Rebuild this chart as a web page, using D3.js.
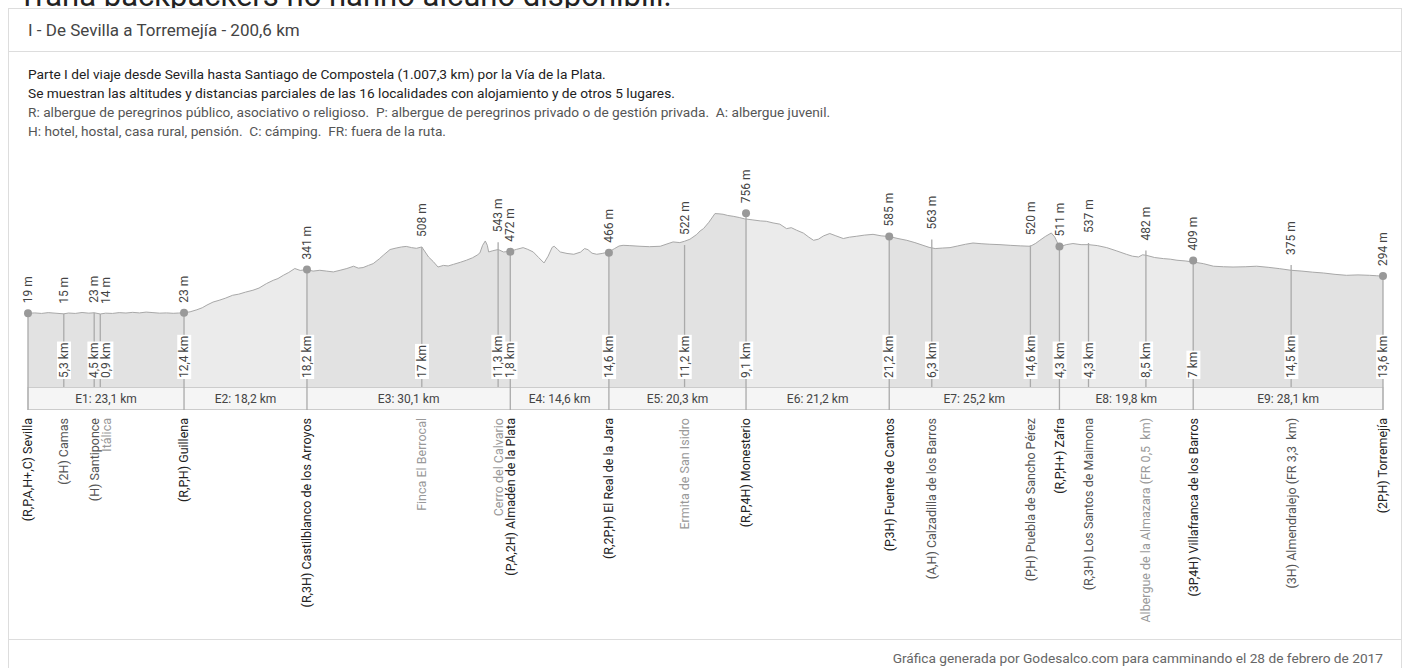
<!DOCTYPE html>
<html>
<head>
<meta charset="utf-8">
<script src="https://cdn.jsdelivr.net/npm/d3@7"></script>
<style>
  body { margin: 0; background: #fff; font-family: Roboto, "Noto Sans", sans-serif; }
  svg { display: block; }
</style>
</head>
<body>
<div id="vis"></div>
<script>
// places along the route (in order)
var placeNames = ["(R,P,A,H+,C) Sevilla", "(2H) Camas", "(H) Santiponce", "Itálica", "(R,P,H) Guillena",
  "(R,3H) Castilblanco de los Arroyos", "Finca El Berrocal", "Cerro del Calvario", "(P,A,2H) Almadén de la Plata",
  "(R,2P,H) El Real de la Jara", "Ermita de San Isidro", "(R,P,4H) Monesterio", "(P,3H) Fuente de Cantos",
  "(A,H) Calzadilla de los Barros", "(P,H) Puebla de Sancho Pérez", "(R,P,H+) Zafra", "(R,3H) Los Santos de Maimona",
  "Albergue de la Almazara (FR 0,5  km)", "(3P,4H) Villafranca de los Barros", "(3H) Almendralejo (FR 3,3  km)",
  "(2P,H) Torremejía"];
// 0 = end of stage, 1 = town with lodging, 2 = other place
var placeKind = [0, 1, 1, 2, 0, 0, 2, 2, 0, 0, 2, 0, 0, 1, 1, 0, 1, 2, 0, 1, 0];
// partial distances from the previous place (km)
var placeDist = [0, 5.3, 4.5, 0.9, 12.4, 18.2, 17, 11.3, 1.8, 14.6, 11.2, 9.1, 21.2, 6.3, 14.6, 4.3, 4.3, 8.5, 7, 14.5, 13.6];
var placeAlt = [19, 15, 23, 14, 23, 341, 508, 543, 472, 466, 522, 756, 585, 563, 520, 511, 537, 482, 409, 375, 294];

var stageNames = ["E1", "E2", "E3", "E4", "E5", "E6", "E7", "E8", "E9"];
var stageKm = [23.1, 18.2, 30.1, 14.6, 20.3, 21.2, 25.2, 19.8, 28.1];

// elevation profile
var profileKm = [0, 1, 2, 3, 4, 5.3, 6, 7, 8, 9, 9.8, 10.7, 11.5, 12.5, 13.5, 14.5, 15.5, 16.5, 17.5, 18.5,
  19.5, 20.5, 21.5, 22.3, 23.1, 24, 25, 25.8, 26.5, 27.4, 28.3, 29.2, 30.3, 31.2, 32.2, 33.3, 34.2, 35.3,
  36.3, 37, 37.8, 38.6, 39.5, 40.3, 41.3, 42.2, 43.2, 44.2, 45.2, 46.2, 47.2, 48.2, 48.9, 49.6, 50.4, 51.1,
  52, 52.6, 53.6, 54.5, 55.3, 56, 56.8, 57.5, 58.3, 59.3, 60, 60.7, 61.5, 62.2, 63, 64, 64.9, 65.8, 66.5,
  66.9, 67.3, 67.7, 68, 68.2, 68.8, 69.6, 70.4, 71.4, 72.3, 73.3, 74, 74.8, 75.6, 76.4, 77, 77.6, 77.9,
  78.4, 78.8, 79.8, 80.8, 81.8, 82.4, 82.9, 83.5, 84.2, 85, 86, 86.8, 87.5, 88.1, 89, 90.6, 92, 93.6, 94.6,
  95.5, 96.5, 97.2, 98, 99, 99.5, 100, 100.8, 101.7, 102.3, 102.9, 103.6, 104.4, 105.3, 106.1, 107.2, 108.4,
  109.3, 110.3, 111.3, 112.3, 113, 113.8, 114.8, 115.6, 116.3, 117, 117.8, 118.7, 119.6, 120.7, 121.6, 122.7,
  123.8, 125.1, 126.3, 127.5, 128.8, 130.1, 131.3, 132.5, 133.4, 134.3, 135.4, 136.5, 137.6, 138.8, 139.9,
  141.1, 142.4, 143.9, 145.4, 146.9, 148.4, 149.2, 149.8, 150.6, 151.5, 152, 152.7, 153.7, 154.7, 155.9,
  157, 158.3, 159.7, 161.1, 162.6, 163.5, 164.4, 165, 165.5, 166.8, 168.1, 169.1, 170.1, 171.3, 172.5, 174,
  175.5, 177, 178.4, 180.2, 181.9, 183.6, 185.3, 187, 188.6, 190.2, 191.8, 193.5, 195.2, 196.9, 198.6,
  199.6, 200.6];
var profileAlt = [19, 22, 18, 24, 20, 15, 21, 18, 25, 20, 23, 14, 20, 18, 24, 21, 26, 22, 28, 24,
  20, 22, 19, 21, 23, 30, 45, 60, 80, 102, 115, 130, 152, 160, 175, 189, 205, 238,
  262, 275, 299, 320, 349, 335, 341, 330, 336, 330, 324, 336, 349, 366, 352, 356, 372, 385,
  420, 447, 489, 500, 508, 512, 503, 498, 508, 434, 400, 360, 372, 368, 380, 395, 410, 428, 448,
  464, 520, 552, 520, 471, 480, 489, 471, 476, 490, 503, 490, 471, 430, 390, 440, 505, 513,
  490, 471, 460, 454, 470, 496, 488, 462, 454, 460, 471, 495, 515, 520, 518, 513, 510, 513, 530,
  545, 540, 550, 565, 600, 626, 643, 690, 754, 752, 749, 740, 734, 725, 715, 708, 700,
  697, 685, 676, 643, 650, 631, 610, 580, 557, 565, 590, 607, 590, 570, 580, 587,
  595, 601, 590, 585, 570, 557, 540, 520, 505, 496, 500, 503, 515, 528, 537,
  532, 528, 525, 520, 516, 513, 535, 557, 585, 611, 581, 508, 525, 533, 525,
  525, 518, 503, 480, 454, 440, 434, 450, 447, 430, 422, 418, 410, 405, 397, 385,
  366, 362, 360, 362, 366, 358, 348, 336, 330, 322, 316, 306, 299, 302, 299,
  296, 292];

var svgWidth = 1406, svgHeight = 668;
var base = 387, bandH = 22;

window.addEventListener('load', function () {
  var svg = d3.select("#vis").append("svg")
    .attr("width", svgWidth)
    .attr("height", svgHeight);

  // cut-off text from the page above
  svg.append("text")
    .attr("x", 18).attr("y", 6)
    .style("font-size", "31px").style("fill", "#222")
    .text("Trana backpackers no hanno alcuno disponibili.");

  // card frame
  svg.append("rect")
    .attr("x", 8.5).attr("y", 8.5)
    .attr("width", 1393).attr("height", 700)
    .attr("fill", "#fff").attr("stroke", "#ddd");
  svg.append("line").attr("x1", 9).attr("x2", 1401).attr("y1", 51.5).attr("y2", 51.5).attr("stroke", "#ddd");
  svg.append("line").attr("x1", 9).attr("x2", 1401).attr("y1", 639.5).attr("y2", 639.5).attr("stroke", "#ddd");

  svg.append("text")
    .attr("x", 28).attr("y", 36)
    .style("font-size", "17px").style("fill", "#444")
    .text("I - De Sevilla a Torremejía - 200,6 km");

  var desc = [
    ["Parte I del viaje desde Sevilla hasta Santiago de Compostela (1.007,3 km) por la Vía de la Plata.", "#222"],
    ["Se muestran las altitudes y distancias parciales de las 16 localidades con alojamiento y de otros 5 lugares.", "#222"],
    ["R: albergue de peregrinos público, asociativo o religioso.  P: albergue de peregrinos privado o de gestión privada.  A: albergue juvenil.", "#555"],
    ["H: hotel, hostal, casa rural, pensión.  C: cámping.  FR: fuera de la ruta.", "#555"]
  ];
  svg.selectAll(".desc").data(desc).enter().append("text")
    .attr("class", "desc")
    .attr("x", 28)
    .attr("y", function (d, i) { return 79 + i * 19; })
    .style("font-size", "13.7px")
    .style("fill", function (d) { return d[1]; })
    .style("white-space", "pre")
    .text(function (d) { return d[0]; });

  svg.append("text")
    .attr("x", 1383).attr("y", 663)
    .attr("text-anchor", "end")
    .style("font-size", "13.7px").style("fill", "#666")
    .text("Gráfica generada por Godesalco.com para camminando el 28 de febrero de 2017");

  // scales
  var total = d3.sum(placeDist);
  var x = d3.scaleLinear().domain([0, total]).range([28, 1383]);
  var y = d3.scaleLinear().domain([19, 756]).range([313.3, 213.3]);

  var cum = [];
  var run = 0;
  placeDist.forEach(function (d) { run += d; cum.push(run); });

  var stageStart = [0];
  stageKm.forEach(function (d, i) { stageStart.push(stageStart[i] + d); });

  var profile = profileKm.map(function (k, i) { return [k, profileAlt[i]]; });

  // stage areas, alternating shades
  var area = d3.area()
    .x(function (d) { return x(d[0]); })
    .y0(base)
    .y1(function (d) { return y(d[1]); });

  var defs = svg.append("defs");
  stageKm.forEach(function (d, i) {
    defs.append("clipPath").attr("id", "clip" + i)
      .append("rect")
      .attr("x", x(stageStart[i])).attr("y", 0)
      .attr("width", x(stageStart[i + 1]) - x(stageStart[i])).attr("height", svgHeight);
    svg.append("path")
      .datum(profile)
      .attr("d", area)
      .attr("clip-path", "url(#clip" + i + ")")
      .attr("fill", i % 2 == 0 ? "#e2e2e2" : "#ebebeb");
  });

  svg.append("path")
    .datum(profile)
    .attr("d", d3.line().x(function (d) { return x(d[0]); }).y(function (d) { return y(d[1]); }))
    .attr("fill", "none")
    .attr("stroke", "#a8a8a8")
    .attr("stroke-width", 1);

  // stage band
  var band = svg.append("g");
  band.append("rect")
    .attr("x", x(0)).attr("y", base + 0.5)
    .attr("width", x(total) - x(0)).attr("height", bandH)
    .attr("fill", "#f5f5f5").attr("stroke", "#ccc");
  band.selectAll("text").data(stageNames).enter().append("text")
    .attr("x", function (d, i) { return (x(stageStart[i]) + x(stageStart[i + 1])) / 2; })
    .attr("y", base + bandH / 2 + 1)
    .attr("dy", "0.35em")
    .attr("text-anchor", "middle")
    .style("font-size", "12px").style("fill", "#444")
    .text(function (d, i) { return d + ": " + d3.format(".1f")(stageKm[i]).replace(".", ",") + " km"; });

  // keep labels of very close places apart
  var labelX = [];
  cum.forEach(function (c, i) {
    var lx = x(c);
    if (i > 0 && lx - labelX[i - 1] < 12) lx = labelX[i - 1] + 12;
    labelX.push(lx);
  });

  // vertical markers
  svg.selectAll(".mark").data(placeAlt).enter().append("line")
    .attr("class", "mark")
    .attr("x1", function (d, i) { return x(cum[i]); })
    .attr("x2", function (d, i) { return x(cum[i]); })
    .attr("y1", function (d, i) { return placeKind[i] == 0 ? base + bandH + 1 : base; })
    .attr("y2", function (d) { return y(d); })
    .attr("stroke", "#aaa")
    .attr("stroke-width", 1.3);

  var stageEnds = d3.range(placeAlt.length).filter(function (i) { return placeKind[i] == 0; });
  svg.selectAll(".dot").data(stageEnds).enter()
    .append("circle")
    .attr("class", "dot")
    .attr("cx", function (i) { return x(cum[i]); })
    .attr("cy", function (i) { return y(placeAlt[i]); })
    .attr("r", 4)
    .attr("fill", "#999");

  // altitude labels
  placeAlt.forEach(function (a, i) {
    svg.append("text")
      .attr("transform", "translate(" + labelX[i] + "," + (y(a) - 10) + ") rotate(-90)")
      .attr("dy", "0.35em")
      .style("font-size", "12px").style("fill", "#444")
      .text(a + " m");
  });

  // partial distance labels
  placeDist.forEach(function (d, i) {
    if (i == 0) return;
    var g = svg.append("g")
      .attr("transform", "translate(" + labelX[i] + ",378) rotate(-90)");
    var t = g.append("text")
      .attr("dy", "0.35em")
      .style("font-size", "12px").style("fill", "#444")
      .text(String(d).replace(".", ",") + " km");
    var bb = t.node().getBBox();
    g.insert("rect", "text")
      .attr("x", bb.x - 1).attr("y", bb.y)
      .attr("width", bb.width + 2).attr("height", bb.height)
      .attr("fill", "#fff");
  });

  // place names
  var nameColor = ["#222", "#555", "#999"];
  placeNames.forEach(function (n, i) {
    svg.append("text")
      .attr("transform", "translate(" + labelX[i] + ",418) rotate(-90)")
      .attr("dy", "0.35em")
      .attr("text-anchor", "end")
      .style("font-size", "12.5px")
      .style("white-space", "pre")
      .style("fill", nameColor[placeKind[i]])
      .text(n);
  });
});
</script>
</body>
</html>
